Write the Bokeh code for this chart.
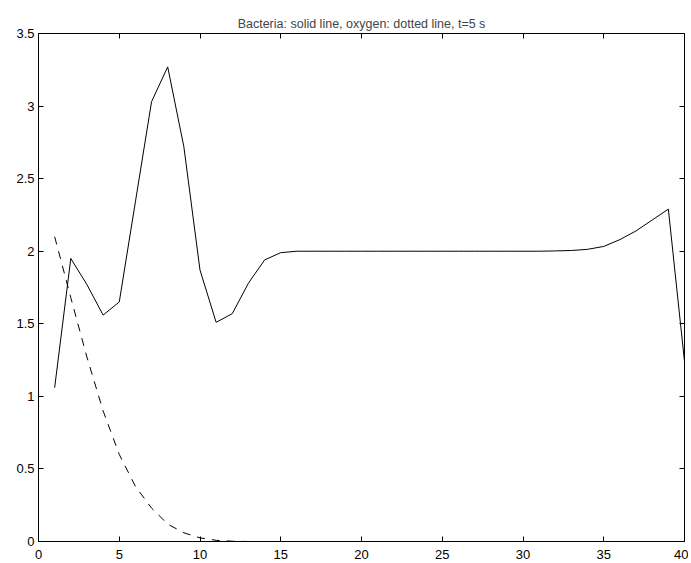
from bokeh.plotting import figure
from bokeh.models import LinearAxis, Range1d, FixedTicker
from bokeh.embed import file_html
from bokeh.resources import INLINE

# ---- data ----
x_vals = list(range(1, 41))
bacteria = [1.06, 1.95, 1.77, 1.56, 1.65, 2.34, 3.03, 3.27, 2.72, 1.87,
            1.51, 1.57, 1.78, 1.94, 1.99, 2.00, 2.00, 2.00, 2.00, 2.00,
            2.00, 2.00, 2.00, 2.00, 2.00, 2.00, 2.00, 2.00, 2.00, 2.00,
            2.00, 2.002, 2.005, 2.013, 2.033, 2.08, 2.14, 2.215, 2.29, 1.24]
oxygen = [2.10, 1.68, 1.27, 0.90, 0.60, 0.38, 0.23, 0.12, 0.06, 0.025,
          0.008, 0.002, 0.0, 0.0, 0.0, 0.0, 0.0, 0.0, 0.0, 0.0,
          0.0, 0.0, 0.0, 0.0, 0.0, 0.0, 0.0, 0.0, 0.0, 0.0,
          0.0, 0.0, 0.0, 0.0, 0.0, 0.0, 0.0, 0.0, 0.0, 0.0]
x_ticks = [0, 5, 10, 15, 20, 25, 30, 35, 40]
y_ticks = [0, 0.5, 1, 1.5, 2, 2.5, 3, 3.5]
title_text = "Bacteria: solid line, oxygen: dotted line, t=5 s"

FONT = "Liberation Sans"

p = figure(frame_width=646, frame_height=508,
           x_range=Range1d(0, 40), y_range=Range1d(0, 3.5),
           output_backend="svg", toolbar_location=None,
           x_axis_type=None, y_axis_type=None,
           min_border_left=38, min_border_top=33,
           min_border_right=4, min_border_bottom=22)
p.title.text = title_text
p.title.align = "center"
p.title.vertical_align = "top"
p.title.text_font = FONT
p.title.text_font_size = "12.5px"
p.title.text_font_style = "normal"
p.title.standoff = 2
p.xgrid.visible = False
p.ygrid.visible = False
p.outline_line_color = None
p.background_fill_color = "white"
p.border_fill_color = "white"


def make_axis(ticks, labels=True, standoff=4):
    ax = LinearAxis(ticker=FixedTicker(ticks=ticks))
    ax.axis_line_color = "black"
    ax.axis_line_width = 1
    ax.major_tick_in = 5
    ax.major_tick_out = 0
    ax.major_tick_line_color = "black"
    ax.minor_tick_line_color = None
    ax.major_label_text_font = FONT
    ax.major_label_text_font_size = "13px"
    ax.major_label_text_color = "black"
    ax.major_label_standoff = standoff
    if not labels:
        ax.major_label_overrides = {t: "" for t in ticks}
        ax.major_label_standoff = 0
    return ax


p.add_layout(make_axis(x_ticks, standoff=8), "below")
p.add_layout(make_axis(y_ticks, standoff=4), "left")
p.add_layout(make_axis(x_ticks, labels=False), "above")
p.add_layout(make_axis(y_ticks, labels=False), "right")

# invisible spacer between the top axis and the title
spacer = LinearAxis(ticker=FixedTicker(ticks=[]))
spacer.axis_line_color = None
spacer.major_tick_line_color = None
spacer.minor_tick_line_color = None
spacer.major_tick_in = 0
spacer.major_tick_out = 12
spacer.minor_tick_out = 0
spacer.major_label_standoff = 0
p.add_layout(spacer, "above")

p.line(x_vals, oxygen, line_color="black", line_width=1, line_dash="8 7")
p.line(x_vals, bacteria, line_color="black", line_width=1)

open("out.html", "w").write(file_html(p, INLINE))
